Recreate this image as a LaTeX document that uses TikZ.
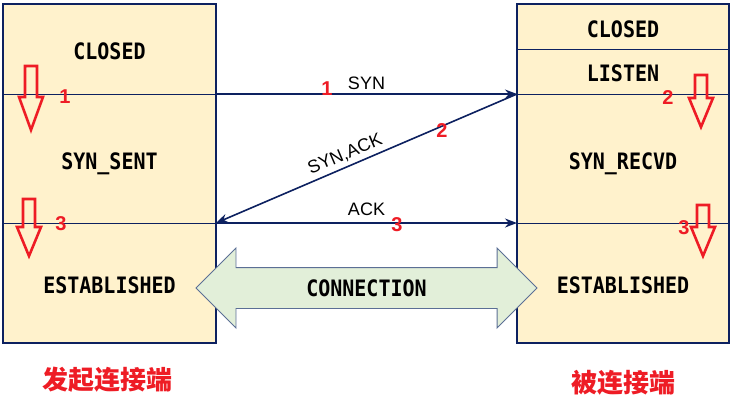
\documentclass[tikz,border=0pt]{standalone}
\usepackage{fontspec}
\setmainfont{Liberation Sans}
\newfontfamily\statefont{DejaVu Sans Mono}
\newfontfamily\cjkfont{Noto Sans CJK SC}
\usetikzlibrary{arrows.meta,shapes.arrows}

\definecolor{boxfill}{HTML}{FFF2CC}
\definecolor{navyline}{HTML}{0D2160}
\definecolor{markred}{HTML}{EE1C25}
\definecolor{connfill}{HTML}{E2EFD9}
\definecolor{conndraw}{HTML}{5B6F95}

% hollow red arrow: x, top, shoulder, tip
\newcommand{\stepdown}[4]{
    \draw[redarrow] (#1-6,#2) -- (#1+6,#2) -- (#1+6,#3) -- (#1+12,#3)
        -- (#1,#4) -- (#1-12,#3) -- (#1-6,#3) -- cycle;
}
% taller state names
\newcommand{\tall}[1]{\scalebox{1}[1.13]{#1}}

\begin{document}
\begin{tikzpicture}[x=1pt,y=-1pt,
        hostbox/.style = {draw=navyline, line width=1.2pt, fill=boxfill},
        divider/.style = {draw=navyline, line width=0.8pt},
        msg/.style = {draw=navyline, line width=1.6pt, -{Stealth[length=12pt,width=9pt]}},
        state/.style = {font=\statefont\bfseries\fontsize{20}{20}\selectfont, text height=16pt, text depth=0pt, inner sep=0pt},
        msglabel/.style = {font=\fontsize{18}{18}\selectfont, inner sep=1pt},
        num/.style = {font=\bfseries\fontsize{20}{20}\selectfont, text=markred, inner sep=0pt},
        redarrow/.style = {draw=markred, line width=2.6pt, line join=miter},
        side/.style = {font=\cjkfont\bfseries\fontsize{26}{26}\selectfont, text=markred},
        connarrow/.style = {shape=double arrow, draw=conndraw, fill=connfill, line width=0.9pt,
            double arrow head extend=19.5pt, minimum height=341pt, inner xsep=0pt,
            inner ysep=12pt, text height=16pt, text depth=0pt,
            font=\statefont\bfseries\fontsize{20}{20}\selectfont}]
    \useasboundingbox (0,0) rectangle (734,400);

    % the two hosts
    \draw[hostbox] (3,4) rectangle (216,343);
    \draw[hostbox] (517,4) rectangle (729,343);

    \coordinate (s1) at (216,94);
    \coordinate (s3) at (216,223);
    \coordinate (r1) at (517,94);
    \coordinate (r3) at (517,223);

    \draw[divider] (3,94) -- (s1);
    \draw[divider] (3,223) -- (s3);
    \draw[divider] (517,49) -- (729,49);
    \draw[divider] (r1) -- (729,94);
    \draw[divider] (r3) -- (729,223);

    % states
    \node[state] (cl) at (109.5,51) {\tall{CLOSED}};
    \node[state] (ss) at (109.5,161) {\tall{SYN\_SENT}};
    \node[state] (el) at (109.5,285.5) {\tall{ESTABLISHED}};
    \node[state] (cr) at (623,29) {\tall{CLOSED}};
    \node[state] (ls) at (623,73.5) {\tall{LISTEN}};
    \node[state] (sr) at (623,161) {\tall{SYN\_RECVD}};
    \node[state] (er) at (623,285.5) {\tall{ESTABLISHED}};

    % handshake
    \draw[msg] (s1) -- node[msglabel, above=3pt] (syn) {SYN} (r1);
    \draw[msg] (r1) -- node[msglabel, sloped, above=3pt, pos=0.555] (synack) {SYN,ACK} (s3);
    \draw[msg] (s3) -- node[msglabel, above=6pt] (ack) {ACK} (r3);

    \node[num] (n1) at (327,89) {1};
    \node[num] (n2) at (442,131) {2};
    \node[num] (n3) at (397,225) {3};

    \node[num] (l1) at (65,97) {1};
    \node[num] (l3) at (61,224) {3};
    \node[num] (r2) at (668,98) {2};
    \node[num] (r3n) at (684,228) {3};

    \stepdown{31}{66}{97}{130}
    \stepdown{29}{199}{227}{256}
    \stepdown{701}{75}{98}{127}
    \stepdown{703}{205}{227}{256}

    % connection
    \node[connarrow] (conn) at (366.5,288) {\tall{CONNECTION}};

    \node[side] (client) at (107.5,380) {发起连接端};
    \node[side] (server) at (623.5,383) {被连接端};
\end{tikzpicture}
\end{document}
